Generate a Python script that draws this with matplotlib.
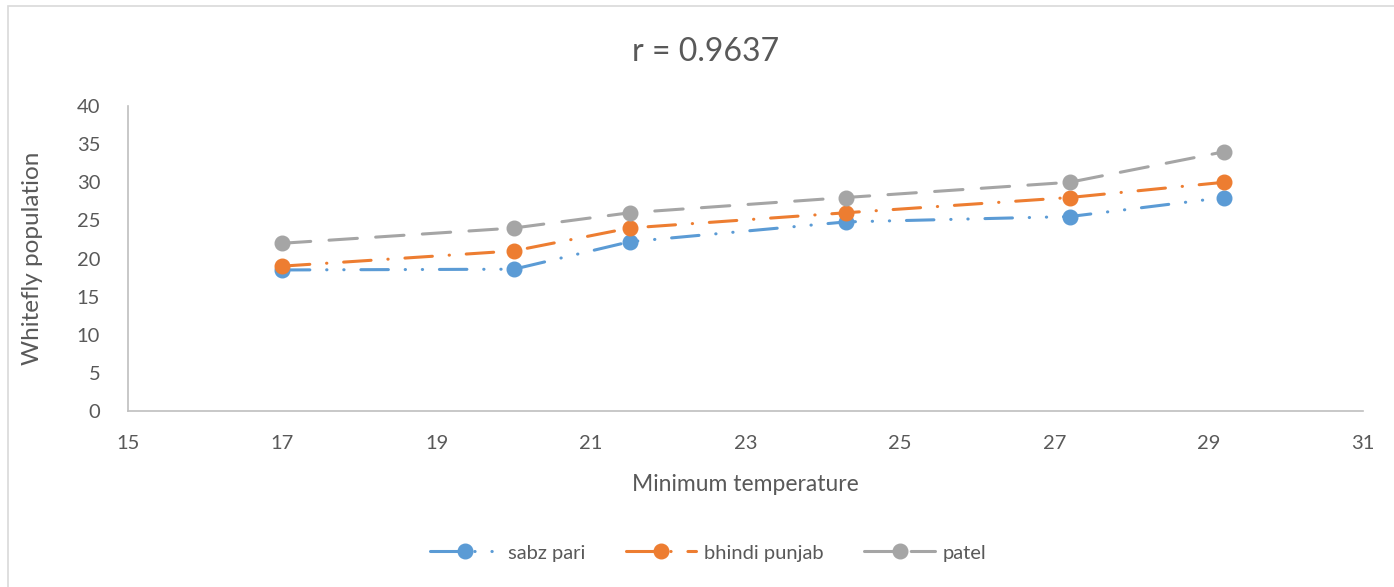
import matplotlib.pyplot as plt
from matplotlib.patches import Rectangle

# Minimum temperature vs whitefly population for three okra varieties
temperature = [17, 20, 21.5, 24.3, 27.2, 29.2]
sabz_pari = [18.5, 18.6, 22.2, 24.8, 25.5, 28]
bhindi_punjab = [19, 21, 24, 26, 28, 30]
patel = [22, 24, 26, 28, 30, 34]

series_names = ["sabz pari", "bhindi punjab", "patel"]
colors = ["#5B9BD5", "#ED7D31", "#A5A5A5"]
dashes = [(9, 5.5, 0.1, 5.5, 0.1, 5.5), (9, 5.5, 0.1, 5.5), (9.3, 6)]

x_ticks = list(range(15, 32, 2))
y_ticks = list(range(0, 41, 5))

plt.rcParams["font.family"] = ["Lato", "DejaVu Sans"]
text_color = "#595959"

fig = plt.figure(figsize=(13.94, 5.87), dpi=100)
ax = fig.add_axes([0.0918, 0.2998, 0.886, 0.5196])

# chart area frame
fig.patches.append(Rectangle((8 / 1394, -0.1), 1.2, 1.1 - 6 / 587,
                             transform=fig.transFigure, fill=False,
                             edgecolor="#D9D9D9", lw=1.2))

for ys, name, c, d in zip([sabz_pari, bhindi_punjab, patel], series_names, colors, dashes):
    ax.plot(temperature, ys, color=c, lw=2.2, dashes=d, dash_capstyle="round",
            marker="o", markersize=10.5, markeredgecolor=c, label=name)

ax.set_xlim(15, 31)
ax.set_ylim(0, 40)
ax.set_xticks(x_ticks)
ax.set_yticks(y_ticks)
ax.tick_params(length=0, labelsize=14.5, colors=text_color)
ax.tick_params(axis="x", pad=17)
ax.tick_params(axis="y", pad=20)

for side in ["top", "right"]:
    ax.spines[side].set_visible(False)
for side in ["left", "bottom"]:
    ax.spines[side].set_color("#BFBFBF")
    ax.spines[side].set_linewidth(1.2)

ax.set_xlabel("Minimum temperature", fontsize=16.5, color=text_color, labelpad=16)
ax.set_ylabel("Whitefly population", fontsize=17.5, color=text_color, labelpad=24)
fig.text(706 / 1394, 1 - 52 / 587, "r = 0.9637", fontsize=23, color=text_color,
         ha="center", va="center")

leg = fig.legend(loc="center", bbox_to_anchor=(0.508, 0.058), ncol=3, frameon=False,
                 fontsize=14.5, handlelength=3.5, columnspacing=2.0, handletextpad=0.4)
for t in leg.get_texts():
    t.set_color(text_color)

fig.savefig("out.png", dpi=100)
